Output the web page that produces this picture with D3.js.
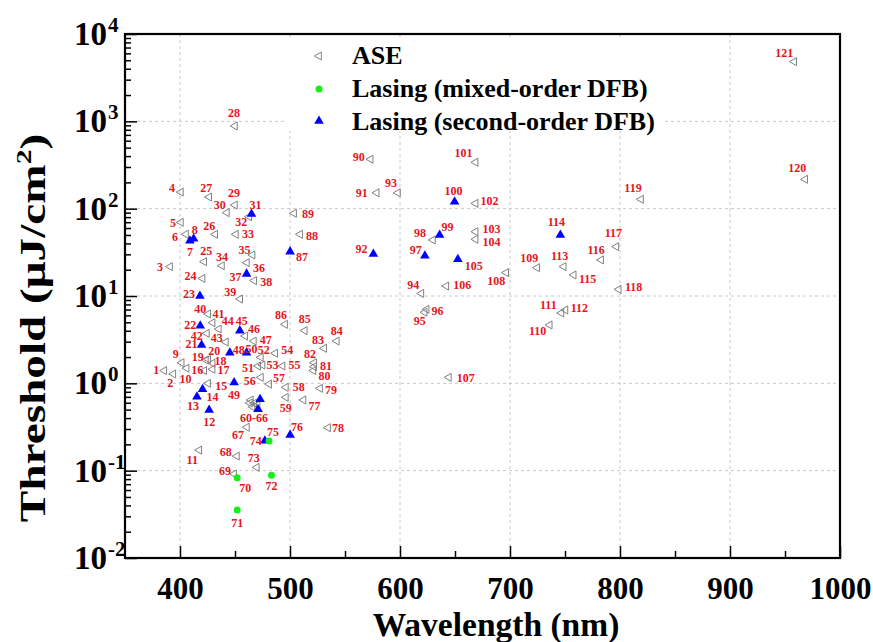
<!DOCTYPE html>
<html><head><meta charset="utf-8">
<script src="https://cdn.jsdelivr.net/npm/d3@7"></script>
<style>body{margin:0;background:#fff}svg{display:block}</style>
</head><body>
<svg id="chart" width="873" height="642"></svg>
<script>
// ---------------- data ----------------
const aseLabels = ["1","2","3","4","5","6","9","10","11","15","16","17","18","19","20","24","25","26","27","28","29","30","32","33","34","35","36","38","39","40","41","42","43","44","46","47","51","52","53","54","55","56","57","58","59","","","","","","67","68","69","73","77","78","79","80","81","82","83","84","85","86","88","89","90","91","93","94","95","96","98","101","102","103","104","106","107","108","109","110","111","112","113","115","116","117","118","119","120","121"];
const aseWavelength = [385.7,393.9,390.9,400.8,400.8,405.4,401.5,406,417.5,425.6,422,429.6,429.6,423.5,425.6,420.5,422,432,426.5,449.9,449.9,442.6,462.9,450.8,438.1,465.9,460.8,467.4,454.7,425.6,429.6,424.4,441.7,435.3,459.2,467.1,471,473.5,475,486.5,493.2,473.5,481,496.2,496.2,464.4,467.4,465.9,470.5,463.5,460.8,451.7,449.2,469.8,512.2,534.6,527.3,521.3,521.9,521.9,531,542.5,513.4,495.5,509.2,503.7,573.3,578.8,598.1,619.4,622.4,624.2,629.9,668.7,668.7,668.7,668.7,642.1,644.4,696.5,724.7,736.1,746.7,750.4,748.8,757.9,782.8,796.7,798.8,819.1,968.3,958.3];
const aseThreshold = [1.40,1.28,21.7,155,69.8,51,1.72,1.49,0.172,1.0,1.40,1.45,1.70,1.85,1.88,15.9,24.7,50.9,136,885,110,90,81,50.9,22.2,29.5,24.1,15.0,9.24,6.22,4.95,3.74,2.97,4.19,3.48,3.05,1.58,1.99,1.62,2.21,1.58,1.17,0.98,0.90,0.692,0.645,0.591,0.54,0.565,0.595,0.314,0.147,0.0916,0.109,0.645,0.31,0.877,1.40,1.55,1.72,2.52,3.05,4.01,4.74,50.9,88.5,368,152,152,10.7,6.51,7.04,43.8,340,115,54.5,44.6,13.0,1.17,18.5,21.1,4.66,6.39,6.92,21.7,17.4,25.9,36.7,11.9,128,217,4820];

const mixedLabels = ["70","71","72","75"];
const mixedWavelength = [452,452,483.2,481];
const mixedThreshold = [0.083,0.0355,0.0886,0.219];

const secondLabels = ["7","8","12","13","14","21","22","23","31","37","45","48","49","50","","60-66","74","76","87","92","97","99","100","105","114"];
const secondWavelength = [409,412.4,426.5,415.4,420.5,419.6,418.4,418.1,465,460.5,454.4,445.3,449.2,460.5,472.8,471,477.1,500.1,500.1,575.8,622.6,636,649.6,652.6,745.8];
const secondThreshold = [43,45.3,0.495,0.703,0.855,2.75,4.57,10.0,87,17.9,4.01,2.24,1.02,2.24,0.657,0.505,0.220,0.256,32.2,30.3,28.9,50.0,120,26.3,50.0];

const xTicks = [400,500,600,700,800,900,1000];
const xMinorTicks = [450,550,650,750,850,950];
const yTicks = [1e-2,1e-1,1e0,1e1,1e2,1e3,1e4];
const yExponents = ["-2","-1","0","1","2","3","4"];
const seriesNames = ["ASE","Lasing (mixed-order DFB)","Lasing (second-order DFB)"];

// label offsets (px) relative to each marker
const labelOffset = {
 "1":[-8,-1],"2":[-3,9],"3":[-10,0],"4":[-9,-4],"5":[-8,0],"6":[-11,3],"7":[0,11],"8":[1,-9],"9":[-6,-9],"10":[-1,11],
 "11":[-7,10],"12":[0,12],"13":[-4,9],"14":[10,8],"15":[13,2],"16":[-7,-1],"17":[11,1],"18":[8,-2],"19":[-8,-3],"20":[6,-9],
 "21":[-10,-1],"22":[-10,-1],"23":[-11,-2],"24":[-12,-3],"25":[2,-11],"26":[-6,-8],"27":[-3,-9],"28":[-1,-13],"29":[-1,-12],"30":[-7,-8],
 "31":[4,-9],"32":[-8,5],"33":[12,0],"34":[0,-9],"35":[-8,-5],"36":[12,5],"37":[-11,3],"38":[12,1],"39":[-10,-7],"40":[-8,-5],
 "41":[6,-9],"42":[-10,2],"43":[-9,-4],"44":[9,-8],"45":[2,-10],"46":[9,-7],"47":[12,-1],"48":[9,-3],"49":[0,12],"50":[5,-4],
 "51":[-10,2],"52":[3,-7],"53":[10,0],"54":[12,-3],"55":[12,-1],"56":[-11,3],"57":[10,-6],"58":[13,-1],"59":[0,11],"60-66":[-4,9],
 "67":[-9,8],"68":[-11,-4],"69":[-9,-3],"70":[8,10],"71":[0,13],"72":[0,11],"73":[-3,-10],"74":[-9,0],"75":[4,-9],"76":[7,-8],
 "77":[11,6],"78":[10,0],"79":[11,1],"80":[11,5],"81":[12,-1],"82":[-4,-9],"83":[-6,-8],"84":[0,-10],"85":[0,-12],"86":[-4,-10],
 "87":[12,5],"88":[12,2],"89":[14,0],"90":[-12,-2],"91":[-15,0],"92":[-12,-5],"93":[-7,-10],"94":[-8,-9],"95":[-5,9],"96":[11,1],
 "97":[-9,-6],"98":[-13,-7],"99":[8,-8],"100":[-1,-11],"101":[-12,-9],"102":[14,-3],"103":[16,-3],"104":[16,3],"105":[16,6],"106":[16,-1],
 "107":[17,0],"108":[-10,8],"109":[-8,-10],"110":[-12,6],"111":[-13,-8],"112":[14,-2],"113":[-4,-11],"114":[-4,-13],"115":[14,4],"116":[-5,-10],
 "117":[-3,-14],"118":[15,-3],"119":[-8,-12],"120":[-8,-11],"121":[-10,-9]
};

// ---------------- chart ----------------
const svg = d3.select("#chart");
const L = 125, R = 840, T = 34, B = 558;
const x = d3.scaleLinear().domain([350,1000]).range([L,R]);
const y = d3.scaleLog().domain([1e-2,1e4]).range([B,T]);
const serif = "'Liberation Serif','Times New Roman',serif";

// grid
const grid = svg.append("g").attr("stroke","#c8c8c8").attr("stroke-width",1).attr("stroke-dasharray","3,3");
grid.selectAll(".gx").data(xTicks.filter(d=>d<1000)).join("line")
  .attr("x1",d=>x(d)).attr("x2",d=>x(d)).attr("y1",T).attr("y2",B);
grid.selectAll(".gy").data(yTicks.filter(d=>d>1e-2 && d<1e4)).join("line")
  .attr("x1",L).attr("x2",R).attr("y1",d=>y(d)).attr("y2",d=>y(d));

// legend background (covers grid)
const lg = svg.append("g");
lg.append("rect").attr("x",287).attr("y",37).attr("width",375).attr("height",94).attr("fill","#fff");

// axes
const xAxis = svg.append("g").attr("transform",`translate(0,${B})`)
  .call(d3.axisBottom(x).tickValues(xTicks).tickSizeInner(-12).tickSizeOuter(0).tickPadding(28).tickFormat(d3.format("d")));
svg.append("g").attr("transform",`translate(0,${B})`)
  .call(d3.axisBottom(x).tickValues(xMinorTicks).tickSizeInner(-7).tickSizeOuter(0).tickFormat(""));
xAxis.selectAll("text").attr("font-family",serif).attr("font-weight","bold").attr("font-size",31).attr("fill","#000").attr("dy","0.35em").attr("y",30);

svg.append("g").attr("transform",`translate(${L},0)`)
  .call(d3.axisLeft(y).tickValues(yTicks).tickSizeInner(-12).tickSizeOuter(0).tickFormat(""));
const yMinor = [];
for (let e=-2; e<4; e++) for (let k=2; k<10; k++) yMinor.push(k*Math.pow(10,e));
svg.append("g").attr("transform",`translate(${L},0)`)
  .call(d3.axisLeft(y).tickValues(yMinor).tickSizeInner(-6).tickSizeOuter(0).tickFormat(""));
svg.selectAll(".domain").remove();
svg.selectAll(".tick line").attr("stroke","#000").attr("stroke-width",1.5);

// y tick labels 10^n
const yl = svg.append("g").attr("font-family",serif).attr("font-weight","bold").attr("fill","#000");
yTicks.forEach((v,i)=>{
  yl.append("text").attr("x",107).attr("y",y(v)+11).attr("text-anchor","end").attr("font-size",33).text("10");
  yl.append("text").attr("x",108).attr("y",y(v)-2).attr("font-size",21).text(yExponents[i]);
});

// frame
svg.append("rect").attr("x",L).attr("y",T).attr("width",R-L).attr("height",B-T)
  .attr("fill","none").attr("stroke","#000").attr("stroke-width",2.2);

// axis titles
svg.append("text").attr("x",496).attr("y",636).attr("text-anchor","middle")
  .attr("font-family",serif).attr("font-weight","bold").attr("font-size",33.5).text("Wavelength (nm)");
const yt = svg.append("text").attr("transform","translate(45,328) rotate(-90) scale(1.35,1)").attr("text-anchor","middle")
  .attr("font-family",serif).attr("font-weight","bold").attr("font-size",35);
yt.append("tspan").text("Threshold (\u03bcJ/cm");
yt.append("tspan").attr("font-size",22).attr("dy",-14).text("2");
yt.append("tspan").attr("dy",14).text(")");

// markers
const ase = aseLabels.map((l,i)=>({l, w:aseWavelength[i], t:aseThreshold[i]}));
const mixed = mixedLabels.map((l,i)=>({l, w:mixedWavelength[i], t:mixedThreshold[i]}));
const second = secondLabels.map((l,i)=>({l, w:secondWavelength[i], t:secondThreshold[i]}));
const aseSym = d3.symbol().type(d3.symbolTriangle).size(28)();
const secSym = d3.symbol().type(d3.symbolTriangle).size(40)();

svg.append("g").selectAll("path").data(ase).join("path")
  .attr("d", aseSym)
  .attr("transform",d=>`translate(${x(d.w)},${y(d.t)}) rotate(-90)`)
  .attr("fill","none").attr("stroke","#808080").attr("stroke-width",1);
svg.append("g").selectAll("path").data(second).join("path")
  .attr("d", secSym)
  .attr("transform",d=>`translate(${x(d.w)},${y(d.t)})`)
  .attr("fill","#0000ff");
svg.append("g").selectAll("circle").data(mixed).join("circle")
  .attr("cx",d=>x(d.w)).attr("cy",d=>y(d.t)).attr("r",3.5).attr("fill","#1aee1a");

// point labels
const all = ase.concat(mixed, second).filter(d=>d.l!=="");
svg.append("g").attr("font-family",serif).attr("font-weight","bold").attr("font-size",12).attr("fill","#e8141c")
  .selectAll("text").data(all).join("text")
  .attr("x",d=>x(d.w)+(labelOffset[d.l]||[0,0])[0])
  .attr("y",d=>y(d.t)+(labelOffset[d.l]||[0,0])[1])
  .attr("dy","0.35em").attr("text-anchor","middle").text(d=>d.l);

// legend
const legBase = [64, 97, 130];
const legMark = [56, 89, 121];
lg.append("path").attr("d",aseSym)
  .attr("transform",`translate(319,${legMark[0]}) rotate(-90)`).attr("fill","none").attr("stroke","#808080");
lg.append("circle").attr("cx",319).attr("cy",legMark[1]).attr("r",3.5).attr("fill","#1aee1a");
lg.append("path").attr("d",secSym)
  .attr("transform",`translate(319,${legMark[2]})`).attr("fill","#0000ff");
seriesNames.forEach((n,i)=>{
  lg.append("text").attr("x",352).attr("y",legBase[i])
    .attr("font-family",serif).attr("font-weight","bold").attr("font-size",26).attr("fill","#000").text(n);
});
</script>
</body></html>
